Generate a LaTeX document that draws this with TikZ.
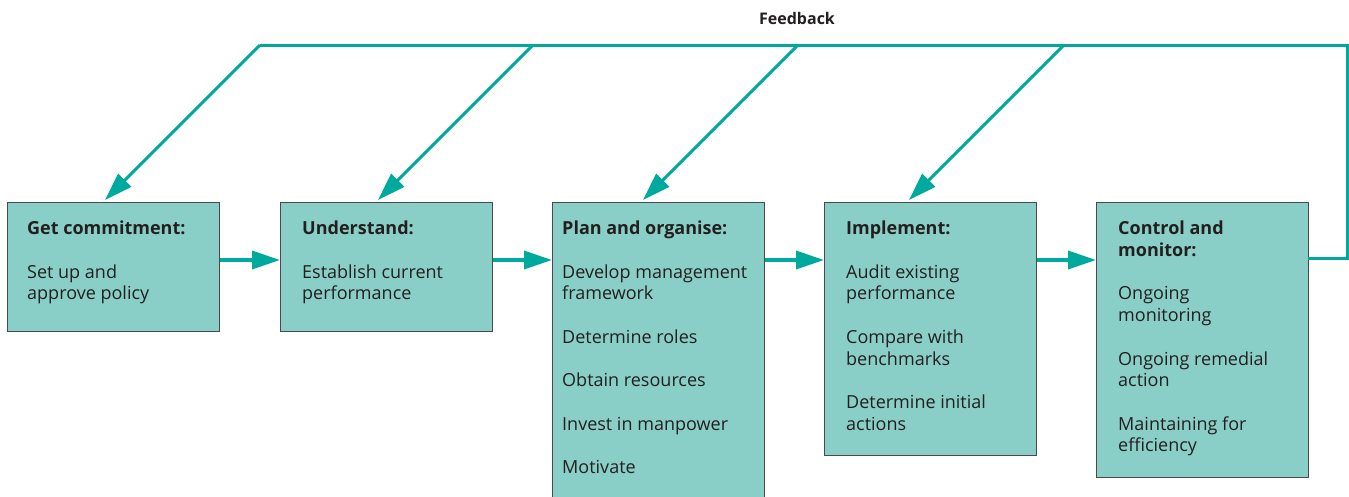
\documentclass[tikz,border=0pt]{standalone}
\usepackage{fontspec}
\setmainfont{Open Sans}
\usetikzlibrary{arrows.meta}
\definecolor{flowcol}{HTML}{00A99D}
\definecolor{boxfill}{HTML}{8ACFC7}
\definecolor{boxline}{HTML}{4A4A4A}
\definecolor{ink}{HTML}{231F20}
\begin{document}
\begin{tikzpicture}[x=1pt,y=-1pt,
  stage/.style={draw=boxline, fill=boxfill, line width=1.2pt, rectangle,
    inner sep=0pt, anchor=north west, minimum width=212pt},
  steptext/.style={anchor=north west, align=left, inner sep=0pt, text=ink,
    font=\fontsize{18}{21.7}\selectfont},
  flow/.style={draw=flowcol, line width=3.5pt,
    -{Triangle[length=28pt,width=18pt]}},
  fbline/.style={draw=flowcol, line width=3pt},
  fbarrow/.style={draw=flowcol, line width=3pt,
    -{Triangle[length=28pt,width=18pt]}}]
\useasboundingbox (0,0) rectangle (1349,496);

% stage boxes
\node[stage, minimum height=129pt] (b1) at (7,202) {};
\node[stage, minimum height=129pt] (b2) at (280,202) {};
\node[stage, minimum height=310pt] (b3) at (552,202) {};
\node[stage, minimum height=253pt] (b4) at (824,202) {};
\node[stage, minimum height=275pt] (b5) at (1096,202) {};

% stage texts
\node[steptext] (t1) at (27,221) {\textbf{Get commitment:}\\[21.7pt]
  Set up and\\approve policy};
\node[steptext] (t2) at (302,221) {\textbf{Understand:}\\[21.7pt]
  Establish current\\performance};
\node[steptext] (t3) at (562,221) {\textbf{Plan and organise:}\\[21.7pt]
  Develop management\\framework\\[21.7pt]
  Determine roles\\[21.7pt]
  Obtain resources\\[21.7pt]
  Invest in manpower\\[21.7pt]
  Motivate};
\node[steptext] (t4) at (846,221) {\textbf{Implement:}\\[21.7pt]
  Audit existing\\performance\\[21.7pt]
  Compare with\\benchmarks\\[21.7pt]
  Determine initial\\actions};
\node[steptext] (t5) at (1118,221) {\textbf{Control and}\\\textbf{monitor:}\\[21.7pt]
  Ongoing\\monitoring\\[21.7pt]
  Ongoing remedial\\action\\[21.7pt]
  Maintaining for\\efficiency};

% forward flow between stages
\draw[flow] (b1.east |- 0,260) -- (b2.west |- 0,260);
\draw[flow] (b2.east |- 0,260) -- (b3.west |- 0,260);
\draw[flow] (b3.east |- 0,260) -- (b4.west |- 0,260);
\draw[flow] (b4.east |- 0,260) -- (b5.west |- 0,260);

% feedback loop
\coordinate (fout) at (1308,258);
\coordinate (fcorner1) at (1347,258);
\coordinate (fcorner2) at (1347,45);
\coordinate (f4) at (1064,45);
\coordinate (f3) at (798,45);
\coordinate (f2) at (533,45);
\coordinate (f1) at (260,45);
\draw[fbline] (fout) -- (fcorner1) -- (fcorner2) -- (f1);
\draw[fbarrow] (f1) -- (105,200);
\draw[fbarrow] (f2) -- (378,200);
\draw[fbarrow] (f3) -- (643,200);
\draw[fbarrow] (f4) -- (909,200);

\node[font=\bfseries\fontsize{16}{19}\selectfont, text=ink] (fblabel) at (797,18) {Feedback};
\end{tikzpicture}
\end{document}
